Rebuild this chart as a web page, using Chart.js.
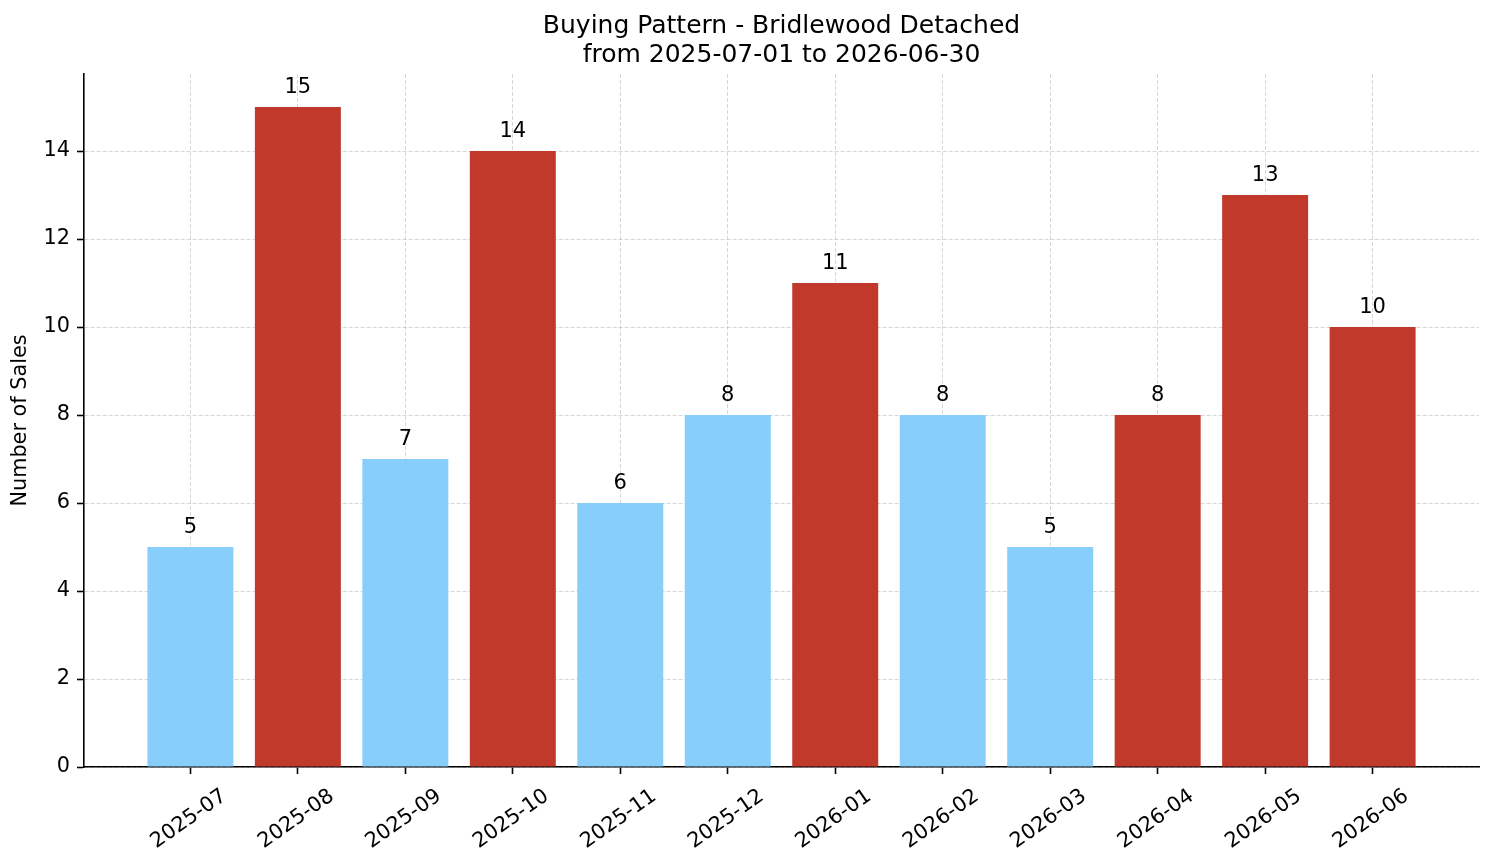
<!DOCTYPE html>
<html>
<head>
<meta charset="utf-8">
<title>Buying Pattern - Bridlewood Detached</title>
<script src="https://cdn.jsdelivr.net/npm/chart.js@4.4.1/dist/chart.umd.min.js"></script>
<style>
  html, body { margin: 0; padding: 0; background: #fff; }
  canvas { display: block; }
</style>
</head>
<body>
<canvas id="salesChart" width="1494" height="863"></canvas>
<script>
// ====== Data ======
const months = ["2025-07", "2025-08", "2025-09", "2025-10", "2025-11", "2025-12",
                "2026-01", "2026-02", "2026-03", "2026-04", "2026-05", "2026-06"];
const sales = [5, 15, 7, 14, 6, 8, 11, 8, 5, 8, 13, 10];
// true = month drawn in red in the original
const highlighted = [false, true, false, true, false, false, true, false, false, true, true, true];
const yTicks = [0, 2, 4, 6, 8, 10, 12, 14];
const titleLines = ["Buying Pattern - Bridlewood Detached", "from 2025-07-01 to 2026-06-30"];

const FONT = "'DejaVu Sans', sans-serif";
const BLUE = "#87CEFA";
const RED = "#C0392B";
const GRID = "rgba(176,176,176,0.5)";

// value labels above each bar + title centred over the axes
const annotate = {
  id: "annotate",
  afterDraw(chart) {
    const ctx = chart.ctx;
    const area = chart.chartArea;
    ctx.save();
    ctx.fillStyle = "#000";
    ctx.textAlign = "center";
    ctx.textBaseline = "alphabetic";

    ctx.font = "21px " + FONT;
    chart.getDatasetMeta(0).data.forEach((bar, i) => {
      ctx.fillText(String(sales[i]), bar.x, bar.y - 14);
    });

    ctx.font = "25px " + FONT;
    const cx = (area.left + area.right) / 2;
    ctx.fillText(titleLines[0], cx, 33);
    ctx.fillText(titleLines[1], cx, 62);
    ctx.restore();
  }
};

new Chart(document.getElementById("salesChart"), {
  type: "bar",
  data: {
    datasets: [{
      data: months.map((m, i) => ({ x: i, y: sales[i] })),
      backgroundColor: highlighted.map(h => h ? RED : BLUE),
      borderWidth: 0,
      categoryPercentage: 0.8,
      barPercentage: 1.0
    }]
  },
  options: {
    responsive: false,
    animation: false,
    devicePixelRatio: 1,
    layout: { padding: { top: 74, right: 15, left: 0, bottom: 0 } },
    plugins: {
      legend: { display: false },
      tooltip: { enabled: false }
    },
    scales: {
      x: {
        type: "linear",
        min: -0.99,
        max: 11.99,
        offset: false,
        z: 1,
        afterBuildTicks: s => { s.ticks = months.map((m, i) => ({ value: i })); },
        afterFit: s => { s.height = 96; },
        ticks: {
          autoSkip: false,
          maxRotation: 35,
          minRotation: 35,
          labelOffset: 34,
          padding: 10,
          color: "#000",
          font: { family: FONT, size: 20.8 },
          callback: v => months[v]
        },
        grid: {
          offset: false,
          color: GRID,
          lineWidth: 1,
          tickLength: 7,
          tickColor: "#000",
          tickWidth: 1.6
        },
        border: { color: "#000", width: 1.6, dash: [4, 2] }
      },
      y: {
        min: 0,
        max: 15.75,
        z: 1,
        afterBuildTicks: s => { s.ticks = yTicks.map(v => ({ value: v })); },
        afterFit: s => { s.width = 84; },
        title: {
          display: true,
          text: "Number of Sales",
          color: "#000",
          font: { family: FONT, size: 20.8 },
          padding: { top: 8, bottom: 0 }
        },
        ticks: {
          padding: 7,
          color: "#000",
          font: { family: FONT, size: 20.8 }
        },
        grid: {
          color: GRID,
          lineWidth: 1,
          tickLength: 7,
          tickColor: "#000",
          tickWidth: 1.6
        },
        border: { color: "#000", width: 1.6, dash: [4, 2] }
      }
    }
  },
  plugins: [annotate]
});
</script>
</body>
</html>
